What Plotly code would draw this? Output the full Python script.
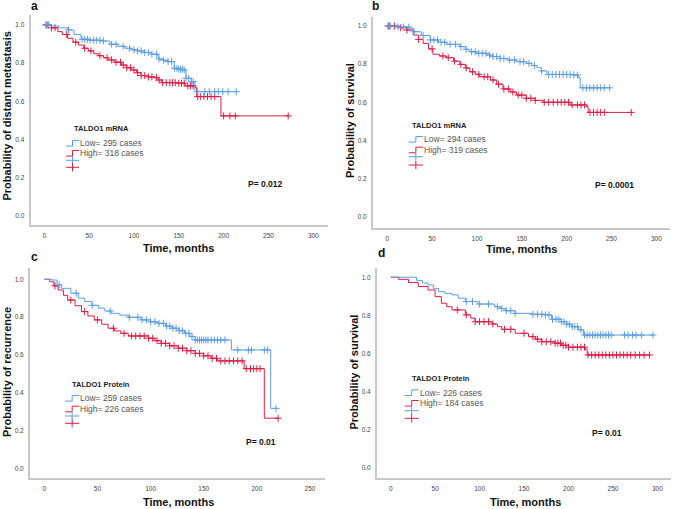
import numpy as np
import plotly.graph_objects as go

W, H = 676, 509
BLUE = "#5c9ee6"
RED = "#dc1e46"

# ---------------- data ----------------
a_low_t = [0, 8, 16, 26, 33, 41, 50, 63, 73, 82, 90, 97, 104, 112, 119, 127, 133, 138, 145, 150, 155, 158, 164, 168, 214]
a_low_s = [1.0, 0.995, 0.985, 0.974, 0.95, 0.925, 0.92, 0.916, 0.899, 0.888, 0.878, 0.870, 0.864, 0.856, 0.847, 0.822, 0.815, 0.808, 0.773, 0.768, 0.764, 0.721, 0.703, 0.651, 0.651]
a_low_cens = [2, 5, 27, 42, 45, 48, 51, 55, 58, 62, 66, 75, 80, 88, 95, 100, 104, 108, 112, 116, 120, 125, 128, 133, 138, 142, 145, 148, 150, 152, 154, 156, 158, 161, 164, 166, 171, 179, 184, 190, 194, 199, 205, 214]

a_high_t = [0, 8, 15, 20, 26, 32, 38, 44, 49, 55, 60, 66, 71, 78, 86, 92, 97, 103, 108, 116, 123, 127, 131, 149, 157, 168, 170, 197, 272]
a_high_s = [1.0, 0.985, 0.965, 0.95, 0.93, 0.91, 0.895, 0.878, 0.864, 0.85, 0.839, 0.828, 0.817, 0.805, 0.79, 0.776, 0.764, 0.75, 0.735, 0.728, 0.724, 0.712, 0.698, 0.695, 0.681, 0.672, 0.625, 0.524, 0.524]
a_high_cens = [2, 4, 8, 12, 25, 35, 45, 52, 62, 70, 75, 80, 85, 88, 92, 96, 100, 104, 108, 112, 116, 120, 125, 128, 132, 136, 140, 143, 146, 150, 153, 156, 160, 163, 166, 171, 174, 178, 182, 186, 190, 200, 207, 213, 272]

b_low_t = [0, 10, 25, 29, 38, 48, 57, 66, 81, 87, 92, 100, 111, 118, 126, 135, 144, 155, 161, 167, 172, 178, 207, 213, 215, 248]
b_low_s = [1.0, 0.995, 0.988, 0.97, 0.95, 0.927, 0.915, 0.904, 0.892, 0.878, 0.865, 0.857, 0.848, 0.84, 0.83, 0.822, 0.813, 0.804, 0.793, 0.781, 0.765, 0.746, 0.743, 0.729, 0.676, 0.676]
b_low_cens = [1, 3, 12, 18, 24, 30, 40, 48, 52, 56, 60, 64, 70, 76, 82, 88, 94, 98, 102, 106, 110, 114, 118, 122, 126, 130, 136, 142, 148, 152, 158, 164, 172, 180, 184, 188, 192, 196, 200, 204, 208, 212, 218, 222, 226, 230, 234, 238, 242, 248]

b_high_t = [0, 14, 22, 29, 35, 40, 46, 51, 58, 66, 74, 81, 87, 92, 98, 103, 115, 122, 129, 137, 144, 155, 165, 174, 204, 222, 224, 272]
b_high_s = [1.0, 0.991, 0.979, 0.953, 0.93, 0.909, 0.88, 0.852, 0.843, 0.834, 0.816, 0.799, 0.78, 0.76, 0.747, 0.734, 0.717, 0.695, 0.67, 0.654, 0.638, 0.621, 0.61, 0.6, 0.586, 0.577, 0.547, 0.547]
b_high_cens = [1, 3, 8, 15, 22, 35, 50, 62, 68, 75, 82, 88, 95, 102, 108, 112, 118, 124, 130, 135, 140, 146, 150, 155, 160, 165, 175, 180, 185, 190, 194, 198, 202, 206, 212, 216, 220, 226, 230, 234, 238, 242, 272]

c_low_t = [0, 7, 12, 16, 25, 32, 38, 45, 51, 57, 63, 71, 79, 91, 100, 107, 114, 120, 126, 132, 137, 142, 176, 213, 218]
c_low_s = [1.0, 0.996, 0.97, 0.952, 0.926, 0.9, 0.882, 0.862, 0.847, 0.832, 0.82, 0.81, 0.799, 0.785, 0.775, 0.767, 0.752, 0.741, 0.728, 0.714, 0.697, 0.679, 0.626, 0.317, 0.317]
c_low_cens = [14, 30, 45, 62, 80, 88, 92, 96, 100, 104, 108, 112, 115, 118, 121, 124, 127, 130, 133, 136, 139, 142, 144, 146, 148, 150, 152, 154, 157, 160, 163, 166, 170, 182, 192, 195, 207, 210, 218]

c_high_t = [0, 5, 9, 13, 18, 22, 29, 35, 41, 47, 54, 60, 66, 72, 79, 98, 104, 110, 118, 126, 134, 142, 150, 157, 163, 188, 207, 220]
c_high_s = [1.0, 0.987, 0.965, 0.943, 0.915, 0.89, 0.86, 0.829, 0.806, 0.785, 0.762, 0.741, 0.727, 0.714, 0.7, 0.688, 0.675, 0.661, 0.648, 0.635, 0.622, 0.608, 0.595, 0.582, 0.568, 0.527, 0.265, 0.265]
c_high_cens = [10, 25, 38, 50, 65, 75, 82, 86, 90, 94, 98, 102, 106, 110, 114, 118, 122, 126, 130, 134, 138, 142, 146, 150, 154, 158, 162, 166, 170, 174, 178, 182, 186, 190, 194, 197, 200, 203, 220]

d_low_t = [0, 29, 36, 42, 48, 54, 61, 69, 76, 84, 98, 117, 123, 129, 140, 159, 174, 181, 192, 198, 204, 211, 217, 295]
d_low_s = [1.0, 0.982, 0.97, 0.959, 0.94, 0.924, 0.915, 0.907, 0.89, 0.872, 0.859, 0.845, 0.835, 0.824, 0.81, 0.805, 0.802, 0.779, 0.766, 0.753, 0.74, 0.723, 0.696, 0.696]
d_low_cens = [85, 92, 100, 110, 120, 125, 130, 135, 140, 160, 165, 170, 174, 178, 182, 186, 189, 192, 195, 198, 201, 204, 207, 210, 214, 218, 221, 224, 227, 230, 233, 236, 239, 242, 245, 248, 263, 267, 272, 276, 282, 295]

d_high_t = [0, 9, 20, 31, 42, 50, 57, 63, 69, 84, 90, 95, 114, 120, 125, 140, 155, 163, 170, 185, 192, 200, 219, 221, 292]
d_high_s = [1.0, 0.989, 0.972, 0.951, 0.933, 0.898, 0.863, 0.845, 0.828, 0.802, 0.785, 0.766, 0.754, 0.74, 0.726, 0.705, 0.687, 0.674, 0.661, 0.653, 0.642, 0.632, 0.621, 0.591, 0.591]
d_high_cens = [75, 85, 95, 100, 105, 110, 115, 128, 135, 150, 160, 165, 170, 175, 180, 185, 188, 191, 194, 197, 200, 205, 210, 214, 218, 222, 226, 230, 234, 238, 242, 246, 250, 254, 258, 262, 266, 270, 275, 280, 285, 291]

panel_letters = ["a", "b", "c", "d"]
y_titles = ["Probability of distant metastasis", "Probability of survival",
            "Probability of recurrence", "Probability of survival"]
x_title = "Time, months"
legend_titles = ["TALDO1 mRNA", "TALDO1 mRNA", "TALDO1 Protein", "TALDO1 Protein"]
low_labels = ["Low= 295 cases", "Low= 294 cases", "Low= 259 cases", "Low= 226 cases"]
high_labels = ["High= 318 cases", "High= 319 cases", "High= 226 cases", "High= 184 cases"]
p_values = ["P= 0.012", "P= 0.0001", "P= 0.01", "P= 0.01"]
x_ticks = [[0, 50, 100, 150, 200, 250, 300], [0, 50, 100, 150, 200, 250, 300],
           [0, 50, 100, 150, 200, 250], [0, 50, 100, 150, 200, 250, 300]]
y_ticks = [0.0, 0.2, 0.4, 0.6, 0.8, 1.0]

curves = [
    (a_low_t, a_low_s, a_low_cens, a_high_t, a_high_s, a_high_cens),
    (b_low_t, b_low_s, b_low_cens, b_high_t, b_high_s, b_high_cens),
    (c_low_t, c_low_s, c_low_cens, c_high_t, c_high_s, c_high_cens),
    (d_low_t, d_low_s, d_low_cens, d_high_t, d_high_s, d_high_cens),
]

# ---------------- layout geometry (pixels) ----------------
geom = [
    dict(x0=30.7, x1=328, yt=15, yb=225, xr=[-15.2, 316.4], yr=[-0.047, 1.052]),
    dict(x0=373, x1=669.7, yt=16.7, yb=228.3, xr=[-15.9, 314.9], yr=[-0.061, 1.049]),
    dict(x0=30, x1=325, yt=268.3, yb=478.3, xr=[-13.45, 264.1], yr=[-0.053, 1.058]),
    dict(x0=377, x1=671, yt=268.3, yb=478, xr=[-15.4, 315.3], yr=[-0.056, 1.047]),
]
letter_pos = [(34, 6), (376, 6), (34, 257), (381, 253)]
ytitle_pos = [(7, 116.5), (350, 121), (7, 372), (353, 371.5)]
xtitle_pos = [(178, 248), (521, 249), (178, 502), (525, 502)]
p_pos = [(265, 184), (614, 185), (261, 441.7), (607, 433.3)]
leg = [
    dict(tx=72.7, ty=128, ix0=66, ix1=79, txx=79, rows=[143.3, 153.3, 160.3, 167.3]),
    dict(tx=411, ty=125, ix0=408.7, ix1=423, txx=422.5, rows=[139.3, 150, 156.7, 165]),
    dict(tx=70.7, ty=384.3, ix0=65, ix1=79.3, txx=79, rows=[398.3, 409, 416, 423.3]),
    dict(tx=410.7, ty=378.3, ix0=404.7, ix1=418.7, txx=418.7, rows=[392.7, 403.3, 410.7, 418.3]),
]


def px(x):
    return x / W


def py(y):
    return 1 - y / H


def step_at(ts, ss, t):
    ts = np.asarray(ts, float)
    ss = np.asarray(ss, float)
    idx = np.searchsorted(ts, np.asarray(t, float), side="right") - 1
    idx = np.clip(idx, 0, len(ss) - 1)
    return ss[idx]


FONT = "Liberation Sans, Arial, sans-serif"


def ann(x, y, text, size, color, xanchor="center", angle=0):
    return dict(x=px(x), y=py(y), xref="paper", yref="paper", text=text, showarrow=False,
                xanchor=xanchor, yanchor="middle", textangle=angle, borderpad=0,
                font=dict(size=size, color=color, family=FONT))


fig = go.Figure()
annotations = []
shapes = []

for i in range(4):
    n = "" if i == 0 else str(i + 1)
    xa, ya = "x" + n, "y" + n
    lt, ls, lc, ht, hs, hc = curves[i]
    for ts, ss, cs, col in [(ht, hs, hc, RED), (lt, ls, lc, BLUE)]:
        fig.add_trace(go.Scatter(x=ts, y=ss, mode="lines", line=dict(color=col, width=1, shape="hv"),
                                 xaxis=xa, yaxis=ya, showlegend=False, hoverinfo="skip"))
        fig.add_trace(go.Scatter(x=cs, y=step_at(ts, ss, cs), mode="markers",
                                 marker=dict(symbol="cross-thin", size=5, line=dict(color=col, width=1)),
                                 xaxis=xa, yaxis=ya, showlegend=False, hoverinfo="skip"))
    g = geom[i]
    axcommon = dict(showline=True, linecolor="#c8c8c8", linewidth=2, showgrid=False, zeroline=False,
                    ticks="", tickfont=dict(size=6.5, color="#444", family=FONT), fixedrange=True,
                    automargin=False)
    fig.update_layout(**{
        ("xaxis" + n): dict(domain=[px(g["x0"]), px(g["x1"])], range=g["xr"], anchor=ya,
                            tickvals=x_ticks[i], ticklabelstandoff=3, **axcommon),
        ("yaxis" + n): dict(domain=[py(g["yb"]), py(g["yt"])], range=g["yr"], anchor=xa,
                            tickvals=y_ticks, tickformat=".1f", ticklabelstandoff=3, **axcommon),
    })
    annotations.append(ann(*letter_pos[i], "<b>" + panel_letters[i] + "</b>", 12, "#111"))
    annotations.append(ann(*ytitle_pos[i], "<b>" + y_titles[i] + "</b>", 11, "#111", angle=-90))
    annotations.append(ann(*xtitle_pos[i], "<b>" + x_title + "</b>", 11, "#111"))
    annotations.append(ann(*p_pos[i], "<b>" + p_values[i] + "</b>", 8.5, "#111"))
    L = leg[i]
    annotations.append(ann(L["tx"], L["ty"], "<b>" + legend_titles[i] + "</b>", 7.5, "#222", xanchor="left"))
    for lab, ry in [(low_labels[i], L["rows"][0]), (high_labels[i], L["rows"][1])]:
        annotations.append(ann(L["txx"], ry, lab, 8.5, "#555", xanchor="left"))
    x0, x1 = L["ix0"], L["ix1"]
    xm = x0 + 0.5 * (x1 - x0)
    for col, ry in [(BLUE, L["rows"][0]), (RED, L["rows"][1])]:
        path = "M {} {} L {} {} L {} {} L {} {}".format(
            px(x0), py(ry + 2.8), px(xm), py(ry + 2.8), px(xm), py(ry - 2.8), px(x1), py(ry - 2.8))
        shapes.append(dict(type="path", path=path, xref="paper", yref="paper",
                           line=dict(color=col, width=1)))
    for col, ry in [(BLUE, L["rows"][2]), (RED, L["rows"][3])]:
        shapes.append(dict(type="line", x0=px(x0), x1=px(x1), y0=py(ry), y1=py(ry), xref="paper",
                           yref="paper", line=dict(color=col, width=1)))
        shapes.append(dict(type="line", x0=px(xm), x1=px(xm), y0=py(ry - 4), y1=py(ry + 4), xref="paper",
                           yref="paper", line=dict(color=col, width=1)))

fig.update_layout(width=W, height=H, margin=dict(l=0, r=0, t=0, b=0, pad=0), autosize=False,
                  paper_bgcolor="white", plot_bgcolor="white", annotations=annotations, shapes=shapes,
                  font=dict(family=FONT))
fig.write_html("out.html", config={"displayModeBar": False},
               post_script="document.body.style.margin='0px';document.body.style.overflow='hidden';")
